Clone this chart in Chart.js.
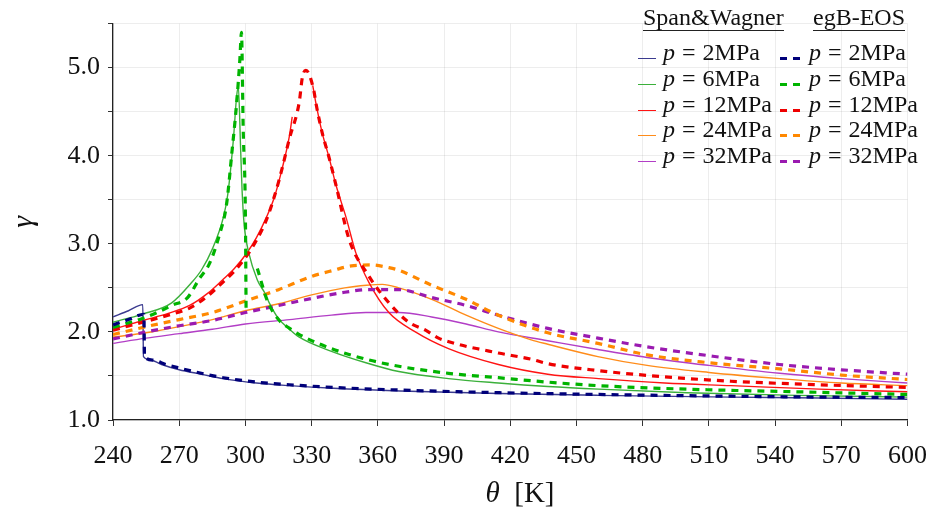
<!DOCTYPE html>
<html>
<head>
<meta charset="utf-8">
<script src="https://cdn.jsdelivr.net/npm/chart.js@4.4.1/dist/chart.umd.min.js"></script>
<style>
  html, body { margin: 0; padding: 0; background: #fff; }
  #wrap { position: relative; width: 942px; height: 515px; font-family: "Liberation Serif", serif; color: #111; }
  #c { position: absolute; left: 0; top: 0; }
  .hdr { position: absolute; top: 4px; font-size: 24px; line-height: 26px; border-bottom: 1.2px solid #222; white-space: nowrap; }
  .lbl { position: absolute; font-size: 24px; line-height: 24px; white-space: nowrap; }
  .lbl .eq { margin: 0 7px; }
  .sw { position: absolute; height: 0; width: 18px; }
  .dsh { position: absolute; height: 3px; width: 7px; }
  #xtitle { position: absolute; left: 0; width: 1040px; top: 476px; text-align: center; font-size: 29px; }
</style>
</head>
<body>
<div id="wrap">
  <canvas id="c" width="942" height="515"></canvas>
  <div id="legend"></div>
  <div id="xtitle"><i>θ</i>&nbsp; [K]</div>
</div>
<script>
// theta [K] / gamma pairs
const pressures = ['2', '6', '12', '24', '32'];
const thetaTicks = [240, 270, 300, 330, 360, 390, 420, 450, 480, 510, 540, 570, 600];

// Span&Wagner (solid)
const sw2 = [[240,2.17],[247,2.24],[253.5,2.31],[253.8,1.72],[256,1.69],[262,1.63],[270,1.57],[280,1.52],[290,1.47],[305,1.42],[320,1.39],[340,1.36],[370,1.33],[415,1.30],[460,1.28],[520,1.26],[560,1.25],[600,1.235]];
const sw6 = [[240,2.11],[253,2.20],[266.6,2.33],[275.6,2.56],[280,2.70],[285,2.94],[290,3.30],[292,3.56],[294.6,4.20],[296,4.67],[296.8,4.78],[297.8,4.10],[298.5,3.60],[299.5,3.20],[301.5,2.90],[305.4,2.59],[308.6,2.45],[310.8,2.33],[315,2.15],[320,2.03],[324.4,1.94],[339,1.78],[354.6,1.65],[369.5,1.55],[392,1.47],[414.6,1.42],[437,1.38],[460,1.35],[500,1.31],[550,1.28],[600,1.26]];
const sw12 = [[240,2.03],[253.5,2.13],[265,2.21],[274.7,2.30],[283,2.44],[289.6,2.59],[295,2.72],[300.5,2.89],[305,3.07],[309.5,3.30],[313,3.52],[316.7,3.86],[319.9,4.22],[321.2,4.44],[326,null],[330.5,4.80],[332,4.59],[334.8,4.26],[338,3.97],[341,3.67],[345.6,3.30],[350,2.90],[356,2.56],[365,2.22],[377,2.00],[392,1.81],[414.6,1.63],[437,1.52],[460,1.47],[490,1.42],[520,1.39],[560,1.35],[600,1.32]];
const sw24 = [[240,1.94],[255,1.99],[270,2.06],[285,2.14],[300,2.24],[315,2.32],[330,2.42],[345,2.50],[355,2.53],[362,2.54],[369.5,2.50],[384.4,2.37],[400,2.19],[414.6,2.04],[429.5,1.91],[437,1.86],[459.7,1.72],[482,1.62],[510,1.54],[542,1.47],[570,1.42],[600,1.39]];
const sw32 = [[240,1.87],[255,1.93],[270,1.98],[285,2.03],[300,2.09],[320,2.14],[339,2.19],[354.6,2.22],[369.5,2.22],[384.4,2.17],[400,2.09],[414.6,2.00],[437,1.90],[459.7,1.80],[482,1.71],[510,1.62],[542,1.53],[570,1.47],[600,1.42]];

// egB-EOS (dashed)
const eg2 = [[240,2.08],[247,2.14],[254,2.20],[254.3,1.72],[258,1.68],[264,1.63],[270,1.59],[280,1.53],[290,1.48],[305,1.43],[320,1.40],[340,1.37],[370,1.34],[415,1.31],[460,1.29],[520,1.27],[560,1.26],[600,1.255]];
const eg6 = [[240,2.05],[253,2.15],[260,2.22],[266.6,2.30],[273.8,2.39],[279,2.60],[283.8,2.78],[288.3,3.11],[291.4,3.44],[294,4.07],[296,4.59],[297.5,5.10],[298.2,5.40],[299,4.30],[300,3.30],[300.3,2.26],[302,null],[305.4,2.72],[310,2.35],[315,2.14],[320,2.04],[324.4,1.97],[339,1.81],[354.6,1.69],[369.5,1.61],[392,1.53],[414.6,1.48],[437,1.43],[460,1.39],[500,1.35],[550,1.32],[600,1.29]];
const eg12 = [[240,2.02],[253.5,2.11],[265,2.19],[274.7,2.27],[283,2.41],[289.6,2.56],[295,2.69],[300.5,2.86],[305,3.04],[309.5,3.27],[315,3.70],[320,4.20],[324.4,4.61],[325.8,4.89],[327.4,4.97],[331,4.74],[332,4.59],[334.8,4.26],[338,3.97],[341,3.67],[347,3.05],[356,2.63],[365,2.33],[374,2.11],[381.6,2.02],[387.5,1.93],[393.4,1.88],[401,1.83],[407,1.80],[414.6,1.76],[429.5,1.69],[437,1.64],[460,1.56],[490,1.49],[520,1.44],[560,1.40],[600,1.37]];
const eg24 = [[240,1.97],[255,2.06],[270,2.14],[285,2.22],[300,2.35],[315,2.48],[330,2.63],[340,2.70],[348,2.75],[357,2.76],[365,2.73],[369.5,2.70],[384.4,2.53],[400,2.37],[414.6,2.19],[437,1.99],[459.7,1.87],[482,1.74],[510,1.65],[542,1.58],[570,1.51],[600,1.46]];
const eg32 = [[240,1.92],[255,2.00],[270,2.07],[285,2.13],[300,2.22],[315,2.30],[330,2.38],[345,2.45],[355,2.48],[369.5,2.48],[384.4,2.39],[400,2.30],[414.6,2.19],[437,2.04],[459.7,1.93],[482,1.83],[510,1.73],[542,1.63],[570,1.57],[600,1.52]];

const swData = [sw2, sw6, sw12, sw24, sw32];
const egData = [eg2, eg6, eg12, eg24, eg32];
const swColors = ['#3b3b8f', '#3bb03b', '#ff1414', '#ff8c1a', '#b23ec6'];
const egColors = ['#00007a', '#00b400', '#ee0000', '#ff8800', '#9a1ab0'];

const FONT = '"Liberation Serif", serif';

function toPts(arr) {
    return arr.map(p => ({ x: p[0], y: p[1] }));
}

const datasets = [];
pressures.forEach((p, i) => {
    datasets.push({
        label: 'Span&Wagner p = ' + p + 'MPa',
        data: toPts(swData[i]),
        borderColor: swColors[i],
        borderWidth: 1.4,
        order: 2
    });
});
pressures.forEach((p, i) => {
    datasets.push({
        label: 'egB-EOS p = ' + p + 'MPa',
        data: toPts(egData[i]),
        borderColor: egColors[i],
        borderWidth: 3.2,
        borderDash: [7, 6],
        borderCapStyle: 'butt',
        order: 1
    });
});

const ctx = document.getElementById('c').getContext('2d');
new Chart(ctx, {
    type: 'line',
    data: { datasets: datasets },
    options: {
        responsive: false,
        animation: false,
        layout: { padding: { top: 15, right: 31, bottom: 0, left: 0 } },
        elements: {
            point: { radius: 0 },
            line: { cubicInterpolationMode: 'monotone', fill: false }
        },
        plugins: { legend: { display: false }, tooltip: { enabled: false } },
        scales: {
            x: {
                type: 'linear',
                min: thetaTicks[0],
                max: thetaTicks[thetaTicks.length - 1],
                afterBuildTicks: s => { s.ticks = thetaTicks.map(v => ({ value: v })); },
                afterFit: s => { s.height = 95; },
                ticks: { font: { family: FONT, size: 26 }, color: '#111', padding: 15, maxRotation: 0, autoSkip: false },
                grid: { color: 'rgba(0,0,0,0.07)', tickColor: '#333', tickLength: 6 },
                border: { color: '#222', width: 1.3 }
            },
            y: {
                min: 1,
                max: 5.5,
                afterFit: s => { s.width = 113; },
                ticks: {
                    stepSize: 0.5,
                    font: { family: FONT, size: 26 },
                    color: '#111',
                    padding: 8,
                    callback: v => Number.isInteger(v) ? v.toFixed(1) : ''
                },
                grid: { color: 'rgba(0,0,0,0.07)', tickColor: '#333', tickLength: 5 },
                border: { color: '#222', width: 1.3 },
                title: { display: true, text: 'γ', color: '#111', font: { family: FONT, size: 30, style: 'italic' }, padding: { top: 6, bottom: 0 } }
            }
        }
    }
});

// legend (two columns)
const legend = document.getElementById('legend');
function el(cls, css, html) {
    const d = document.createElement('div');
    d.className = cls;
    Object.assign(d.style, css);
    if (html) d.innerHTML = html;
    legend.appendChild(d);
    return d;
}
el('hdr', { left: '643px' }, 'Span&amp;Wagner');
el('hdr', { left: '813px' }, 'egB-EOS');
pressures.forEach((p, i) => {
    const yc = 52 + i * 25.8;
    const txt = '<i>p</i><span class="eq">=</span>' + p + 'MPa';
    el('sw', { left: '638px', top: (yc + 6) + 'px', borderTop: '1.6px solid ' + swColors[i] });
    el('lbl', { left: '663px', top: (yc - 12) + 'px' }, txt);
    el('dsh', { left: '780px', top: (yc + 5) + 'px', background: egColors[i] });
    el('dsh', { left: '793px', top: (yc + 5) + 'px', background: egColors[i] });
    el('lbl', { left: '809px', top: (yc - 12) + 'px' }, txt);
});
</script>
</body>
</html>
